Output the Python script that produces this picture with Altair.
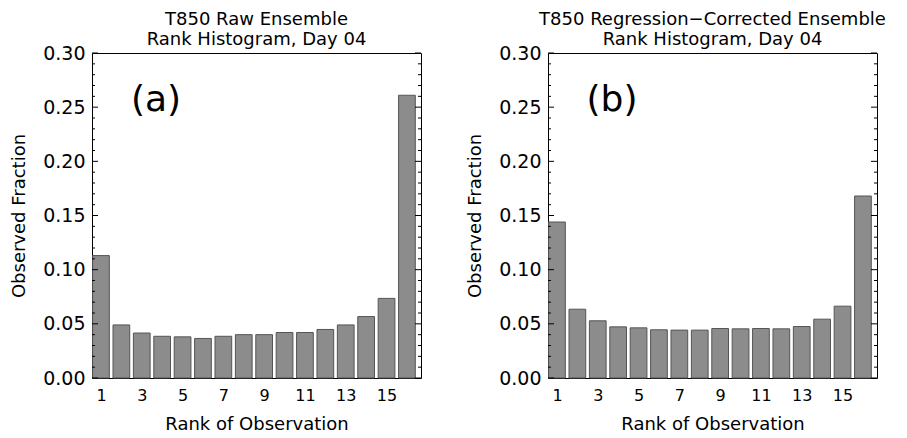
import altair as alt
import pandas as pd

ranks = list(range(1, 17))
raw_frac = [0.113, 0.049, 0.0415, 0.0385, 0.038, 0.0365, 0.0385, 0.040,
            0.040, 0.042, 0.042, 0.0448, 0.049, 0.0567, 0.0735, 0.261]
corr_frac = [0.144, 0.0635, 0.0528, 0.0472, 0.0463, 0.0445, 0.0442, 0.0442,
             0.0457, 0.0454, 0.0457, 0.0454, 0.0475, 0.0543, 0.0663, 0.168]
x_labels = [1, 3, 5, 7, 9, 11, 13, 15]
y_major = [0.0, 0.05, 0.10, 0.15, 0.20, 0.25, 0.30]
y_minor = [0.01, 0.02, 0.03, 0.04, 0.06, 0.07, 0.08, 0.09, 0.11, 0.12, 0.13, 0.14,
           0.16, 0.17, 0.18, 0.19, 0.21, 0.22, 0.23, 0.24, 0.26, 0.27, 0.28, 0.29]
titles_a = ["T850 Raw Ensemble", "Rank Histogram, Day 04"]
titles_b = ["T850 Regression\u2212Corrected Ensemble", "Rank Histogram, Day 04"]

FONT = "DejaVu Sans"
W, H = 329, 325


def panel(vals, title_lines, tag):
    df = pd.DataFrame({"rank": ranks, "frac": vals})
    xs = alt.Scale(domain=[0.56, 16.69], nice=False, zero=False)
    ys = alt.Scale(domain=[0, 0.30], nice=False)
    xax = alt.Axis(values=x_labels, format="d", title="Rank of Observation",
                   ticks=False, domain=False, grid=False, labelFontSize=16,
                   labelPadding=9, titlePadding=12, titleFontSize=18)
    yax = alt.Axis(values=y_major, format=".2f", title="Observed Fraction",
                   ticks=False, domain=False, grid=False, labelFontSize=19,
                   labelPadding=7, titlePadding=14, titleFontSize=18)
    bars = alt.Chart(df).transform_calculate(
        lo="datum.rank - 0.41", hi="datum.rank + 0.41"
    ).mark_bar(color="#8c8c8c", stroke="#555555", strokeWidth=1).encode(
        x=alt.X("lo:Q", scale=xs, axis=xax),
        x2="hi:Q",
        y=alt.Y("frac:Q", scale=ys, axis=yax),
        y2=alt.datum(0),
    )
    maj = pd.DataFrame({"v": y_major})
    mnr = pd.DataFrame({"v": y_minor})
    yenc = alt.Y("v:Q", scale=ys, axis=yax)
    t1 = alt.Chart(maj).mark_rule(color="black").encode(y=yenc, x=alt.value(0), x2=alt.value(6))
    t2 = alt.Chart(maj).mark_rule(color="black").encode(y=yenc, x=alt.value(W), x2=alt.value(W - 6))
    t3 = alt.Chart(mnr).mark_rule(color="black").encode(y=yenc, x=alt.value(0), x2=alt.value(3))
    t4 = alt.Chart(mnr).mark_rule(color="black").encode(y=yenc, x=alt.value(W), x2=alt.value(W - 3))
    lab = alt.Chart(pd.DataFrame({"x": [3.7], "y": [0.257], "t": [tag]})).mark_text(
        fontSize=36, font=FONT, align="center", baseline="middle", color="black"
    ).encode(
        x=alt.X("x:Q", scale=xs, axis=xax),
        y=alt.Y("y:Q", scale=ys, axis=yax),
        text="t:N",
    )
    return alt.layer(bars, t1, t2, t3, t4, lab).properties(
        width=W, height=H,
        title=alt.TitleParams(text=title_lines, font=FONT, fontSize=18,
                              fontWeight="normal", anchor="middle", offset=-5,
                              lineHeight=20, color="black"),
    )


chart = alt.hconcat(
    panel(raw_frac, titles_a, "(a)"),
    panel(corr_frac, titles_b, "(b)"),
    spacing=44,
).properties(
    padding={"left": 2, "top": 2, "right": 0, "bottom": 0}
).configure_view(
    stroke="black", strokeWidth=1
).configure_axis(
    labelFont=FONT, titleFont=FONT, labelColor="black", titleColor="black",
    titleFontWeight="normal"
)

chart.save("out.html", embed_options={"renderer": "svg", "actions": False})
